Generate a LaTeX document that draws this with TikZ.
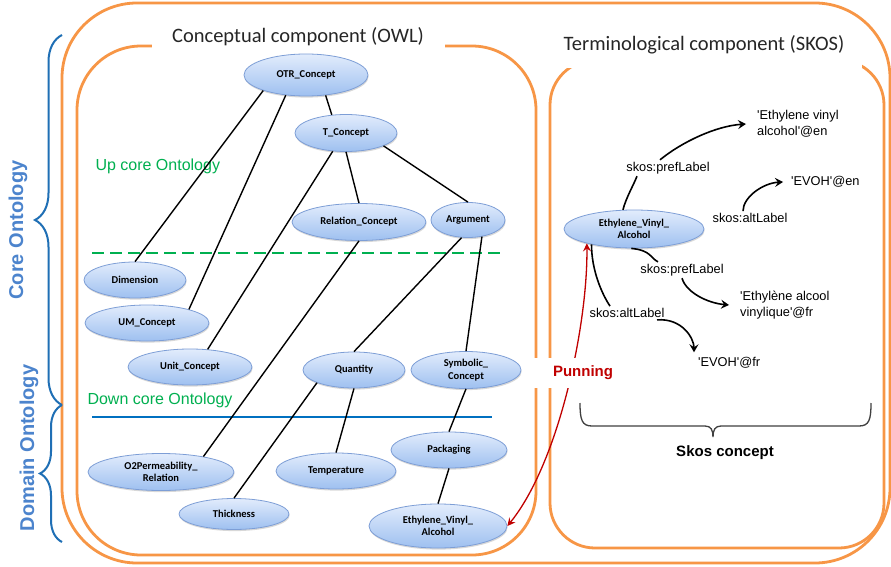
\documentclass[tikz,border=0pt]{standalone}
\usepackage{fontspec}
\setmainfont{Carlito}
\newfontfamily\arialf{Liberation Sans}
\usetikzlibrary{shapes.geometric,arrows.meta,decorations.pathreplacing,shadows}
\definecolor{orng}{RGB}{247,150,70}
\definecolor{bracecol}{RGB}{31,111,181}
\definecolor{sidetxt}{RGB}{76,132,205}
\definecolor{grn}{RGB}{0,176,80}
\definecolor{bline}{RGB}{0,112,192}
\definecolor{ellTop}{RGB}{226,236,252}
\definecolor{ellBot}{RGB}{158,192,240}
\definecolor{ellBd}{RGB}{125,158,214}
\definecolor{pred}{RGB}{192,0,0}
\newcommand{\ellfont}{\fontsize{10.5}{12.5}\selectfont\bfseries}
\newcommand{\skosfont}{\fontsize{12.8}{16}\selectfont\arialf}
\newcommand{\titlefont}{\fontsize{20.5}{23}\selectfont}
\newcommand{\sidefont}{\fontsize{20}{24}\selectfont\arialf\bfseries}
\newcommand{\layerfont}{\fontsize{16}{19}\selectfont\arialf}
\begin{document}
\begin{tikzpicture}[x=1pt,y=-1pt,
  cpt/.style={ellipse, draw=ellBd, line width=0.8pt, top color=ellTop, bottom color=ellBot,
    inner sep=0pt, font=\ellfont, align=center,
    drop shadow={shadow xshift=0.6pt, shadow yshift=-1.6pt, opacity=0.3}},
  edge/.style={line width=1.4pt, draw=black},
  box/.style={draw=orng, line width=2.8pt},
  skos/.style={font=\skosfont, inner sep=2pt, align=left},
  sarr/.style={line width=1.6pt, -{Stealth[length=8pt,width=9pt,inset=3pt]}},
  sline/.style={line width=1.6pt},
  pun/.style={draw=pred, line width=1.3pt, {Stealth[length=8pt,width=8pt,inset=3pt]}-{Stealth[length=8pt,width=8pt,inset=3pt]}},
  sidebrace/.style={draw=bracecol, line width=2pt, decorate, decoration={brace, amplitude=#1}}
]
\useasboundingbox (0,0) rectangle (891,567);
\fill[white] (0,0) rectangle (891,567);

% boxes
\draw[box, rounded corners=75pt] (62,3) rectangle (890,563);
\draw[box, rounded corners=64pt] (77,46) rectangle (536,555);
\draw[box, rounded corners=45pt] (550,60) rectangle (884,548);
\fill[white] (152,36) rectangle (445,54);
\fill[white] (567,50) rectangle (862,68);

% titles
\node[font=\titlefont, text=black!85] (t1) at (298,37) {Conceptual component (OWL)};
\node[font=\titlefont, text=black!85] (t2) at (704,45) {Terminological component (SKOS)};

% side braces
\draw[sidebrace=27pt] (62,405) -- (62,35);
\draw[sidebrace=22pt] (62,542) -- (62,405);
\node[font=\sidefont, text=sidetxt, rotate=90] (core) at (18,230) {Core Ontology};
\node[font=\sidefont, text=sidetxt, rotate=90] (dom) at (29,448) {Domain Ontology};

% layer lines
\draw[grn, line width=1.5pt, dash pattern=on 12pt off 6pt] (92,253) -- (503,253);
\draw[bline, line width=1.5pt] (92,417) -- (492,417);
\node[font=\layerfont, text=grn, anchor=west] (up) at (92,166) {Up core Ontology};
\node[font=\layerfont, text=grn, anchor=west] (down) at (84,400) {Down core Ontology};

% concepts
\node[cpt, minimum width=124pt, minimum height=42pt] (otr) at (306,75) {OTR\_Concept};
\node[cpt, minimum width=102pt, minimum height=37pt] (tc) at (346,133) {T\_Concept};
\node[cpt, minimum width=134pt, minimum height=37pt] (rel) at (359,222) {Relation\_Concept};
\node[cpt, minimum width=74pt, minimum height=35pt] (arg) at (468,220) {Argument};
\node[cpt, minimum width=102pt, minimum height=36pt] (dim) at (135,280) {Dimension};
\node[cpt, minimum width=124pt, minimum height=36pt] (um) at (147,323) {UM\_Concept};
\node[cpt, minimum width=124pt, minimum height=36pt] (unit) at (190,367) {Unit\_Concept};
\node[cpt, minimum width=102pt, minimum height=36pt] (qty) at (354,370) {Quantity};
\node[cpt, minimum width=110pt, minimum height=37pt] (sym) at (466,370) {Symbolic\_\\Concept};
\node[cpt, minimum width=146pt, minimum height=37pt] (o2) at (161,472) {O2Permeability\_\\Relation};
\node[cpt, minimum width=120pt, minimum height=36pt] (temp) at (336,471) {Temperature};
\node[cpt, minimum width=116pt, minimum height=36pt] (pack) at (449,450) {Packaging};
\node[cpt, minimum width=110pt, minimum height=31pt] (thick) at (234,514) {Thickness};
\node[cpt, minimum width=138pt, minimum height=44pt] (evaL) at (438,526) {Ethylene\_Vinyl\_\\Alcohol};
\node[cpt, minimum width=140pt, minimum height=38pt] (evaR) at (634,229) {Ethylene\_Vinyl\_\\Alcohol};

% hierarchy edges
\draw[edge] (otr.314) -- (tc.128);
\draw[edge] (otr.200) -- (dim.north);
\draw[edge] (otr.225) -- (um.18);
\draw[edge] (tc.234) -- (unit.45);
\draw[edge] (tc.south) -- (rel.north);
\draw[edge] (tc.341) -- (arg.north);
\draw[edge] (rel.south) -- (o2.20);
\draw[edge] (arg.250) -- (qty.north);
\draw[edge] (arg.310) -- (sym.north);
\draw[edge] (qty.south) -- (temp.north);
\draw[edge] (qty.199) -- (thick.north);
\draw[edge] (sym.south) -- (pack.north);
\draw[edge] (pack.south) -- (evaL.north);

% SKOS labels
\node[skos] (pref1) at (668,168) {skos:prefLabel};
\node[skos] (alt1) at (750,218) {skos:altLabel};
\node[skos] (pref2) at (682,270) {skos:prefLabel};
\node[skos] (alt2) at (627,313) {skos:altLabel};
\node[skos, anchor=west] (en1) at (755,124) {\textquotesingle Ethylene vinyl\\alcohol\textquotesingle @en};
\node[skos, anchor=west] (en2) at (789,182) {\textquotesingle EVOH\textquotesingle @en};
\node[skos, anchor=west] (fr1) at (738,305) {\textquotesingle Ethylène alcool\\vinylique\textquotesingle @fr};
\node[skos, anchor=west] (fr2) at (696,363) {\textquotesingle EVOH\textquotesingle @fr};

\draw[sline] (evaR.120) .. controls +(3,-12) and +(-3,8) .. ([xshift=-31pt]pref1.south);
\draw[sarr] ([xshift=-8pt]pref1.north) .. controls +(22,-18) and +(-30,2) .. ([xshift=-9pt]en1.west);
\draw[sarr] ([xshift=-7pt]alt1.north) .. controls +(0,-14) and +(-20,1) .. ([xshift=-6pt]en2.west);
\draw[sline] (evaR.262) .. controls +(20,2) and +(-8,-4) .. ([xshift=-24pt]pref2.north);
\draw[sarr] (pref2.south) .. controls +(4,14) and +(-22,-2) .. ([xshift=-9pt]fr1.west);
\draw[sline] (evaR.200) .. controls +(0,26) and +(-8,-12) .. ([xshift=-17pt]alt2.north);
\draw[sarr] ([xshift=30pt]alt2.south) .. controls +(25,-2) and +(0,-14) .. ([xshift=-2pt,yshift=3pt]fr2.north west);

% punning
\draw[pun] (evaL.east) .. controls +(52,-64) and +(1,80) .. (evaR.197);
\fill[white] (532,358) rectangle (616,388);
\node[font=\fontsize{15}{18}\selectfont\arialf\bfseries, text=pred] (punning) at (583,373) {Punning};

% skos concept brace
\draw[black!75, line width=1.3pt] (580,403) .. controls (580,420) and (582,426) .. (592,426) -- (705,426)
   .. controls (711,426) and (713,430) .. (713,437) .. controls (713,430) and (715,426) .. (721,426)
   -- (859,426) .. controls (869,426) and (871,420) .. (871,403);
\node[font=\fontsize{15}{18}\selectfont\arialf\bfseries] (skc) at (725,453) {Skos concept};
\end{tikzpicture}
\end{document}
